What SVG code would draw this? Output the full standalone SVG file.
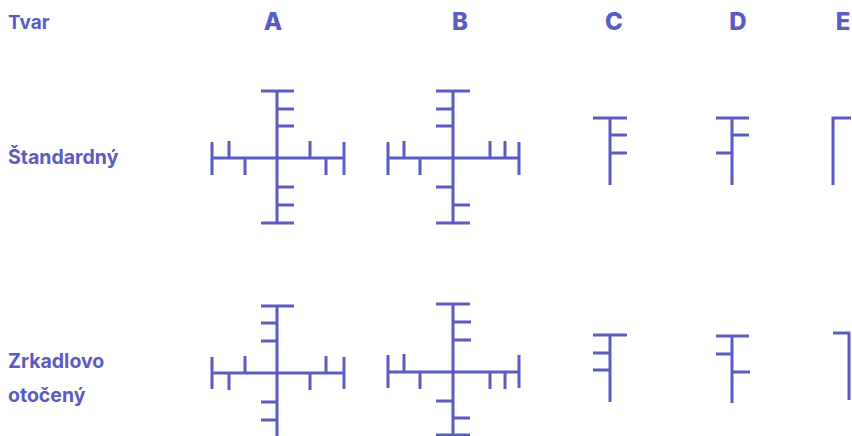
<svg xmlns="http://www.w3.org/2000/svg" width="852" height="436" viewBox="0 0 852 436">
<style>
.s{fill:none;stroke:#5b5bc4;stroke-width:3;stroke-linecap:butt;stroke-linejoin:miter}
.t{font-family:Inter,"Noto Sans",sans-serif;font-weight:700;fill:#5b5bc4}
.h{font-size:24px;font-weight:800;text-anchor:middle}
.l{font-size:19.5px}
</style>
<rect width="852" height="436" fill="#fff"/>
<g id="labels">
<text class="t" x="8" y="29" font-size="19">Tvar</text>
<text class="t h" x="273" y="30">A</text>
<text class="t h" x="460" y="30">B</text>
<text class="t h" x="614" y="30">C</text>
<text class="t h" x="738" y="30">D</text>
<text class="t h" x="843" y="30">E</text>
<text class="t l" x="8" y="164">Štandardný</text>
<text class="t l" x="8" y="368">Zrkadlovo</text>
<text class="t l" x="8" y="402">otočený</text>
</g>
<g id="std-A">
<path class="s" d="M277 91V223M261 91H294M277 109H294M277 126H294M277 187H294M277 205H294M261 223H294M212 158H344M212 142V175M344 142V175M229 141V158M245 158V175M310 141V158M326 158V175"/>
</g>
<g id="std-B">
<path class="s" d="M453 91V223M436 91H470M436 109H453M436 126H453M436 187H453M453 205H470M436 223H470M388 158H519M388 142V175M519 142V175M404 141V158M420 158V175M490 141V158M505 141V158"/>
</g>
<g id="std-C">
<path class="s" d="M610 118V185M593 118H627M610 135H627M610 153H627"/>
</g>
<g id="std-D">
<path class="s" d="M732 118V185M716 118H749M732 135H749M716 153H732"/>
</g>
<g id="std-E">
<path class="s" d="M851 118H833V185"/>
</g>
<g id="mir-A">
<path class="s" d="M277 306V436M261 306H294M261 323H277M261 341H277M212 373H344M212 357V389M344 357V389M229 373V390M245 356V373M310 373V390M326 356V373M261 402H277M261 420H277"/>
</g>
<g id="mir-B">
<path class="s" d="M453 304V435M436 304H470M453 322H471M453 340H471M388 372H519M388 355V388M519 355V388M404 354V372M420 372V389M490 372V389M505 372V389M436 401H453M453 418H470M436 435H470"/>
</g>
<g id="mir-C">
<path class="s" d="M610 335V402M593 335H627M593 353H610M593 370H610"/>
</g>
<g id="mir-D">
<path class="s" d="M732 336V403M716 336H749M716 354H732M732 372H750"/>
</g>
<g id="mir-E">
<path class="s" d="M833 333H849V400"/>
</g>
<g id="connectors"/>
</svg>
